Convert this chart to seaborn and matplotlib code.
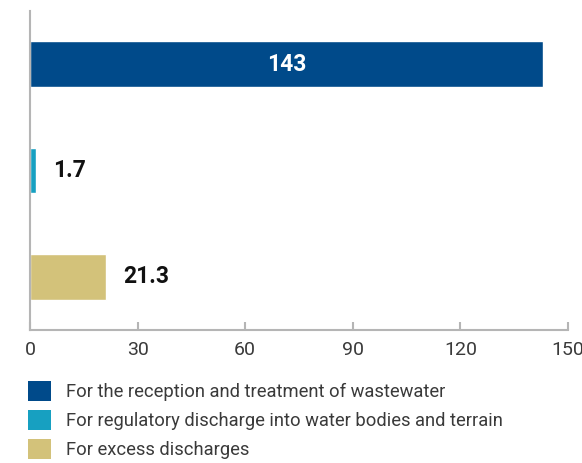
import matplotlib
matplotlib.use("Agg")
import matplotlib.pyplot as plt
from matplotlib.patches import Patch
import seaborn as sns

categories = [
    "For the reception and treatment of wastewater",
    "For regulatory discharge into water bodies and terrain",
    "For excess discharges",
]
values = [143, 1.7, 21.3]
value_labels = ["143", "1.7", "21.3"]
colors = ["#004a8a", "#17a0c1", "#d3c27a"]
xticks = [0, 30, 60, 90, 120, 150]

sns.set_style("white")
plt.rcParams["font.family"] = ["Roboto", "DejaVu Sans"]

fig = plt.figure(figsize=(5.82, 4.63), dpi=100)
ax = fig.add_axes([30 / 582, 1 - 330 / 463, 538 / 582, 319 / 463])

sns.barplot(x=values, y=categories, hue=categories, palette=colors,
            orient="h", width=0.427, legend=False, saturation=1, ax=ax)

ax.set_xlim(0, 150)
ax.set_ylim(2.5, -0.5)
ax.set_xticks(xticks)
ax.set_xticklabels([str(t) for t in xticks], fontsize=14, color="#3a3a3a")
ax.set_yticks([])
ax.set_xlabel("")
ax.set_ylabel("")

for side in ("top", "right"):
    ax.spines[side].set_visible(False)
for side in ("left", "bottom"):
    ax.spines[side].set_color("#b5b5b5")
    ax.spines[side].set_linewidth(1.5)

ax.tick_params(axis="x", direction="in", length=6, width=1.5,
               color="#b5b5b5", pad=8, bottom=True)

# value labels: inside the long bar, just past the end of the short ones
for i, (v, lab) in enumerate(zip(values, value_labels)):
    if v > 75:
        ax.text(v / 2, i, lab, ha="center", va="center", color="white",
                fontsize=16.5, fontweight="bold")
    else:
        ax.annotate(lab, xy=(v, i), xytext=(12, 0), textcoords="offset points",
                    ha="left", va="center", color="#111111",
                    fontsize=16.5, fontweight="bold")

handles = [Patch(facecolor=c, edgecolor="none") for c in colors]
fig.legend(handles, categories, loc="upper left",
           bbox_to_anchor=(28 / 582, 1 - 381 / 463),
           frameon=False, borderpad=0, borderaxespad=0,
           handlelength=1.26, handleheight=1.26, handletextpad=0.82,
           labelspacing=0.5, labelcolor="#3a3a3a",
           prop={"family": ["Roboto", "DejaVu Sans"], "size": 13.2})

fig.savefig("out.png", dpi=100)
